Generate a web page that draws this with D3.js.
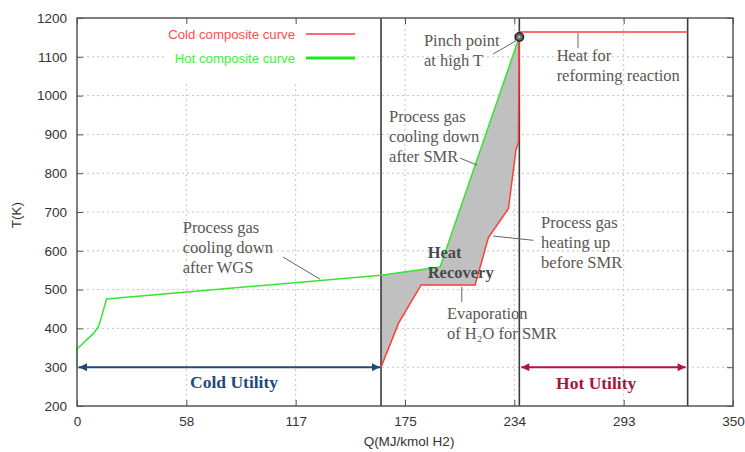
<!DOCTYPE html>
<html>
<head>
<meta charset="utf-8">
<script src="https://cdn.jsdelivr.net/npm/d3@7"></script>
<style>
  body { margin: 0; background: #fff; }
  svg { display: block; }
</style>
</head>
<body>
<div id="chart"></div>
<script>
// data
const hotQ = [0, 0, 9.2, 11.7, 15.8, 162.2, 193.7, 236.0];
const hotT = [300, 347, 389, 407, 476, 537, 558, 1151];

const coldQ = [162.2, 171.5, 183.6, 212.4, 219.5, 230.2, 234.2, 235.5, 236.0, 325.8];
const coldT = [300, 413, 512, 512, 634, 709, 860, 880, 1164, 1164];

// utility boundaries (cold utility end, pinch, hot utility end)
const utilityQ = [162.2, 236.0, 325.8];
const utilityT = 300;
const pinch = {q: 236.0, t: 1151};

const xTickLabels = ["0", "58", "117", "175", "234", "293", "350"];
const yTicks = [200, 300, 400, 500, 600, 700, 800, 900, 1000, 1100, 1200];

// chart dimensions
const W = 745, H = 452;
const margin = {top: 18, right: 12, bottom: 46, left: 77};

const svg = d3.select("#chart").append("svg")
    .attr("width", W)
    .attr("height", H);

const x = d3.scaleLinear().domain([0, 350]).range([margin.left, W - margin.right]);
const y = d3.scaleLinear().domain([200, 1200]).range([H - margin.bottom, margin.top]);

const x0 = x.range()[0], x1 = x.range()[1];
const y0 = y.range()[0], y1 = y.range()[1];
const xTickVals = xTickLabels.map((d, i) => i * 350 / 6);

const sans = "'Liberation Sans', Arial, sans-serif";
const serif = "'Liberation Serif', 'Times New Roman', serif";

// grid lines
const grid = svg.append("g")
    .attr("stroke", "#c4c4c4")
    .attr("stroke-width", 1)
    .attr("stroke-dasharray", "2,3");
grid.selectAll(".hg")
    .data(yTicks.slice(1, -1))
    .enter().append("line")
    .attr("x1", x0).attr("x2", x1)
    .attr("y1", d => y(d)).attr("y2", d => y(d));
grid.selectAll(".vg")
    .data(xTickVals.slice(1, -1))
    .enter().append("line")
    .attr("x1", d => x(d)).attr("x2", d => x(d))
    .attr("y1", y0).attr("y2", y1);

// legend background hides the grid behind it
svg.append("rect")
    .attr("x", 165).attr("y", 20)
    .attr("width", 193).attr("height", 62)
    .attr("fill", "#fff");

// axes: ticks inward on all sides
svg.append("g")
    .attr("transform", "translate(0," + y0 + ")")
    .call(d3.axisBottom(x).tickValues(xTickVals).tickFormat((d, i) => xTickLabels[i])
        .tickSizeInner(-6).tickSizeOuter(0).tickPadding(10))
    .call(g => g.select(".domain").remove());
svg.append("g")
    .attr("transform", "translate(0," + y1 + ")")
    .call(d3.axisTop(x).tickValues(xTickVals).tickFormat("")
        .tickSizeInner(-6).tickSizeOuter(0))
    .call(g => g.select(".domain").remove());
svg.append("g")
    .attr("transform", "translate(" + x0 + ",0)")
    .call(d3.axisLeft(y).tickValues(yTicks).tickFormat(d3.format("d"))
        .tickSizeInner(-6).tickSizeOuter(0).tickPadding(10))
    .call(g => g.select(".domain").remove());
svg.append("g")
    .attr("transform", "translate(" + x1 + ",0)")
    .call(d3.axisRight(y).tickValues(yTicks).tickFormat("")
        .tickSizeInner(-6).tickSizeOuter(0))
    .call(g => g.select(".domain").remove());

svg.selectAll(".tick line").attr("stroke", "#555");
svg.selectAll(".tick text")
    .attr("font-family", sans)
    .attr("font-size", 13.5)
    .attr("fill", "#333");

// heat recovery area between the curves
const hotPts = hotQ.map((q, i) => [q, hotT[i]]);
const coldPts = coldQ.map((q, i) => [q, coldT[i]]);
const area = hotPts.filter(p => p[0] >= utilityQ[0])
    .concat(coldPts.filter(p => p[1] < pinch.t).reverse());
const line = d3.line().x(d => x(d[0])).y(d => y(d[1]));

svg.append("path")
    .attr("d", line(area) + "Z")
    .attr("fill", "#c0c0c0")
    .attr("stroke", "none");

// utility boundaries
svg.selectAll(".util")
    .data(utilityQ)
    .enter().append("line")
    .attr("x1", d => x(d)).attr("x2", d => x(d))
    .attr("y1", y0).attr("y2", y1)
    .attr("stroke", "#3c3c3c")
    .attr("stroke-width", 1.6);

// curves
svg.append("path")
    .attr("d", line(coldPts))
    .attr("fill", "none")
    .attr("stroke", "#ff3b3b")
    .attr("stroke-width", 1.5);
svg.append("path")
    .attr("d", line(hotPts))
    .attr("fill", "none")
    .attr("stroke", "#33e633")
    .attr("stroke-width", 1.5);

// plot frame
svg.append("rect")
    .attr("x", x0).attr("y", y1)
    .attr("width", x1 - x0).attr("height", y0 - y1)
    .attr("fill", "none")
    .attr("stroke", "#555")
    .attr("stroke-width", 1.5);

// pinch marker
svg.append("circle")
    .attr("cx", x(pinch.q)).attr("cy", y(pinch.t))
    .attr("r", 4.2)
    .attr("fill", "#666")
    .attr("stroke", "#222")
    .attr("stroke-width", 1.5);
svg.append("circle")
    .attr("cx", x(pinch.q)).attr("cy", y(pinch.t))
    .attr("r", 1.2)
    .attr("fill", "#ccc");

// utility arrows
const defs = svg.append("defs");
function marker(id, color) {
    defs.append("marker")
        .attr("id", id)
        .attr("viewBox", "0 0 10 10")
        .attr("refX", 10).attr("refY", 5)
        .attr("markerWidth", 10).attr("markerHeight", 8)
        .attr("markerUnits", "userSpaceOnUse")
        .attr("orient", "auto-start-reverse")
        .append("path")
        .attr("d", "M0,0L10,5L0,10z")
        .attr("fill", color);
}
marker("arrCold", "#1f4a7c");
marker("arrHot", "#b0163c");

svg.append("line")
    .attr("x1", x(0) + 2).attr("x2", x(utilityQ[0]) - 1)
    .attr("y1", y(utilityT)).attr("y2", y(utilityT))
    .attr("stroke", "#1f4a7c").attr("stroke-width", 2)
    .attr("marker-start", "url(#arrCold)")
    .attr("marker-end", "url(#arrCold)");
svg.append("line")
    .attr("x1", x(utilityQ[1]) + 2).attr("x2", x(utilityQ[2]) - 2)
    .attr("y1", y(utilityT)).attr("y2", y(utilityT))
    .attr("stroke", "#b0163c").attr("stroke-width", 2)
    .attr("marker-start", "url(#arrHot)")
    .attr("marker-end", "url(#arrHot)");

svg.append("text")
    .attr("x", x(83.8)).attr("y", y(246.4))
    .attr("text-anchor", "middle")
    .attr("font-family", serif).attr("font-weight", "bold").attr("font-size", 17.5)
    .attr("fill", "#1f4a7c")
    .text("Cold Utility");
svg.append("text")
    .attr("x", x(277)).attr("y", y(244))
    .attr("text-anchor", "middle")
    .attr("font-family", serif).attr("font-weight", "bold").attr("font-size", 17.5)
    .attr("fill", "#a8143a")
    .text("Hot Utility");

// annotations: [q, t] of first baseline, lines
const notes = [
    {q: 185.1, t: 1128, lines: ["Pinch point", "at high T"]},
    {q: 255.9, t: 1090, lines: ["Heat for", "reforming reaction"]},
    {q: 166.5, t: 932, lines: ["Process gas", "cooling down", "after SMR"]},
    {q: 247.6, t: 660, lines: ["Process gas", "heating up", "before SMR"]},
    {q: 56.4, t: 647, lines: ["Process gas", "cooling down", "after WGS"]},
    {q: 197.4, t: 424, lines: ["Evaporation", "of H\u2082O for SMR"]}
];
notes.forEach(n => {
    const t = svg.append("text")
        .attr("font-family", serif).attr("font-size", 16.5)
        .attr("fill", "#5a5753");
    n.lines.forEach((s, i) => {
        t.append("tspan")
            .attr("x", x(n.q))
            .attr("y", y(n.t) + i * 20)
            .text(s);
    });
});

const heat = svg.append("text")
    .attr("font-family", serif).attr("font-size", 16.5).attr("font-weight", "bold")
    .attr("fill", "#4a4a4a");
["Heat", "Recovery"].forEach((s, i) => {
    heat.append("tspan").attr("x", x(187.1)).attr("y", y(581) + i * 20).text(s);
});

// leader lines
const leaders = [
    [[222.0, 1107], [234.8, 1143]],
    [[267.3, 1161], [267.3, 1123]],
    [[204.3, 839], [213.4, 821]],
    [[222.0, 638], [243.5, 627]],
    [[109.9, 584], [129.6, 527]],
    [[205.3, 507], [205.3, 468]]
];
svg.selectAll(".leader")
    .data(leaders)
    .enter().append("path")
    .attr("d", d => line(d))
    .attr("stroke", "#666")
    .attr("stroke-width", 1)
    .attr("fill", "none");

// legend
const legend = [
    {label: "Cold composite curve", color: "#ff4d4d", stroke: "#ff6b6b", w: 2, ly: 34},
    {label: "Hot composite curve", color: "#3df23d", stroke: "#22e622", w: 3, ly: 58}
];
legend.forEach(l => {
    svg.append("text")
        .attr("x", 295).attr("y", l.ly + 4.5)
        .attr("text-anchor", "end")
        .attr("font-family", sans).attr("font-size", 13.2)
        .attr("fill", l.color)
        .text(l.label);
    svg.append("line")
        .attr("x1", 306).attr("x2", 355)
        .attr("y1", l.ly).attr("y2", l.ly)
        .attr("stroke", l.stroke).attr("stroke-width", l.w);
});

// axis labels
svg.append("text")
    .attr("x", (x0 + x1) / 2 + 4).attr("y", 446)
    .attr("text-anchor", "middle")
    .attr("font-family", sans).attr("font-size", 13.5)
    .attr("fill", "#333")
    .text("Q(MJ/kmol H2)");
svg.append("text")
    .attr("transform", "translate(21,215) rotate(-90)")
    .attr("text-anchor", "middle")
    .attr("font-family", sans).attr("font-size", 13.5)
    .attr("fill", "#333")
    .text("T(K)");
</script>
</body>
</html>
